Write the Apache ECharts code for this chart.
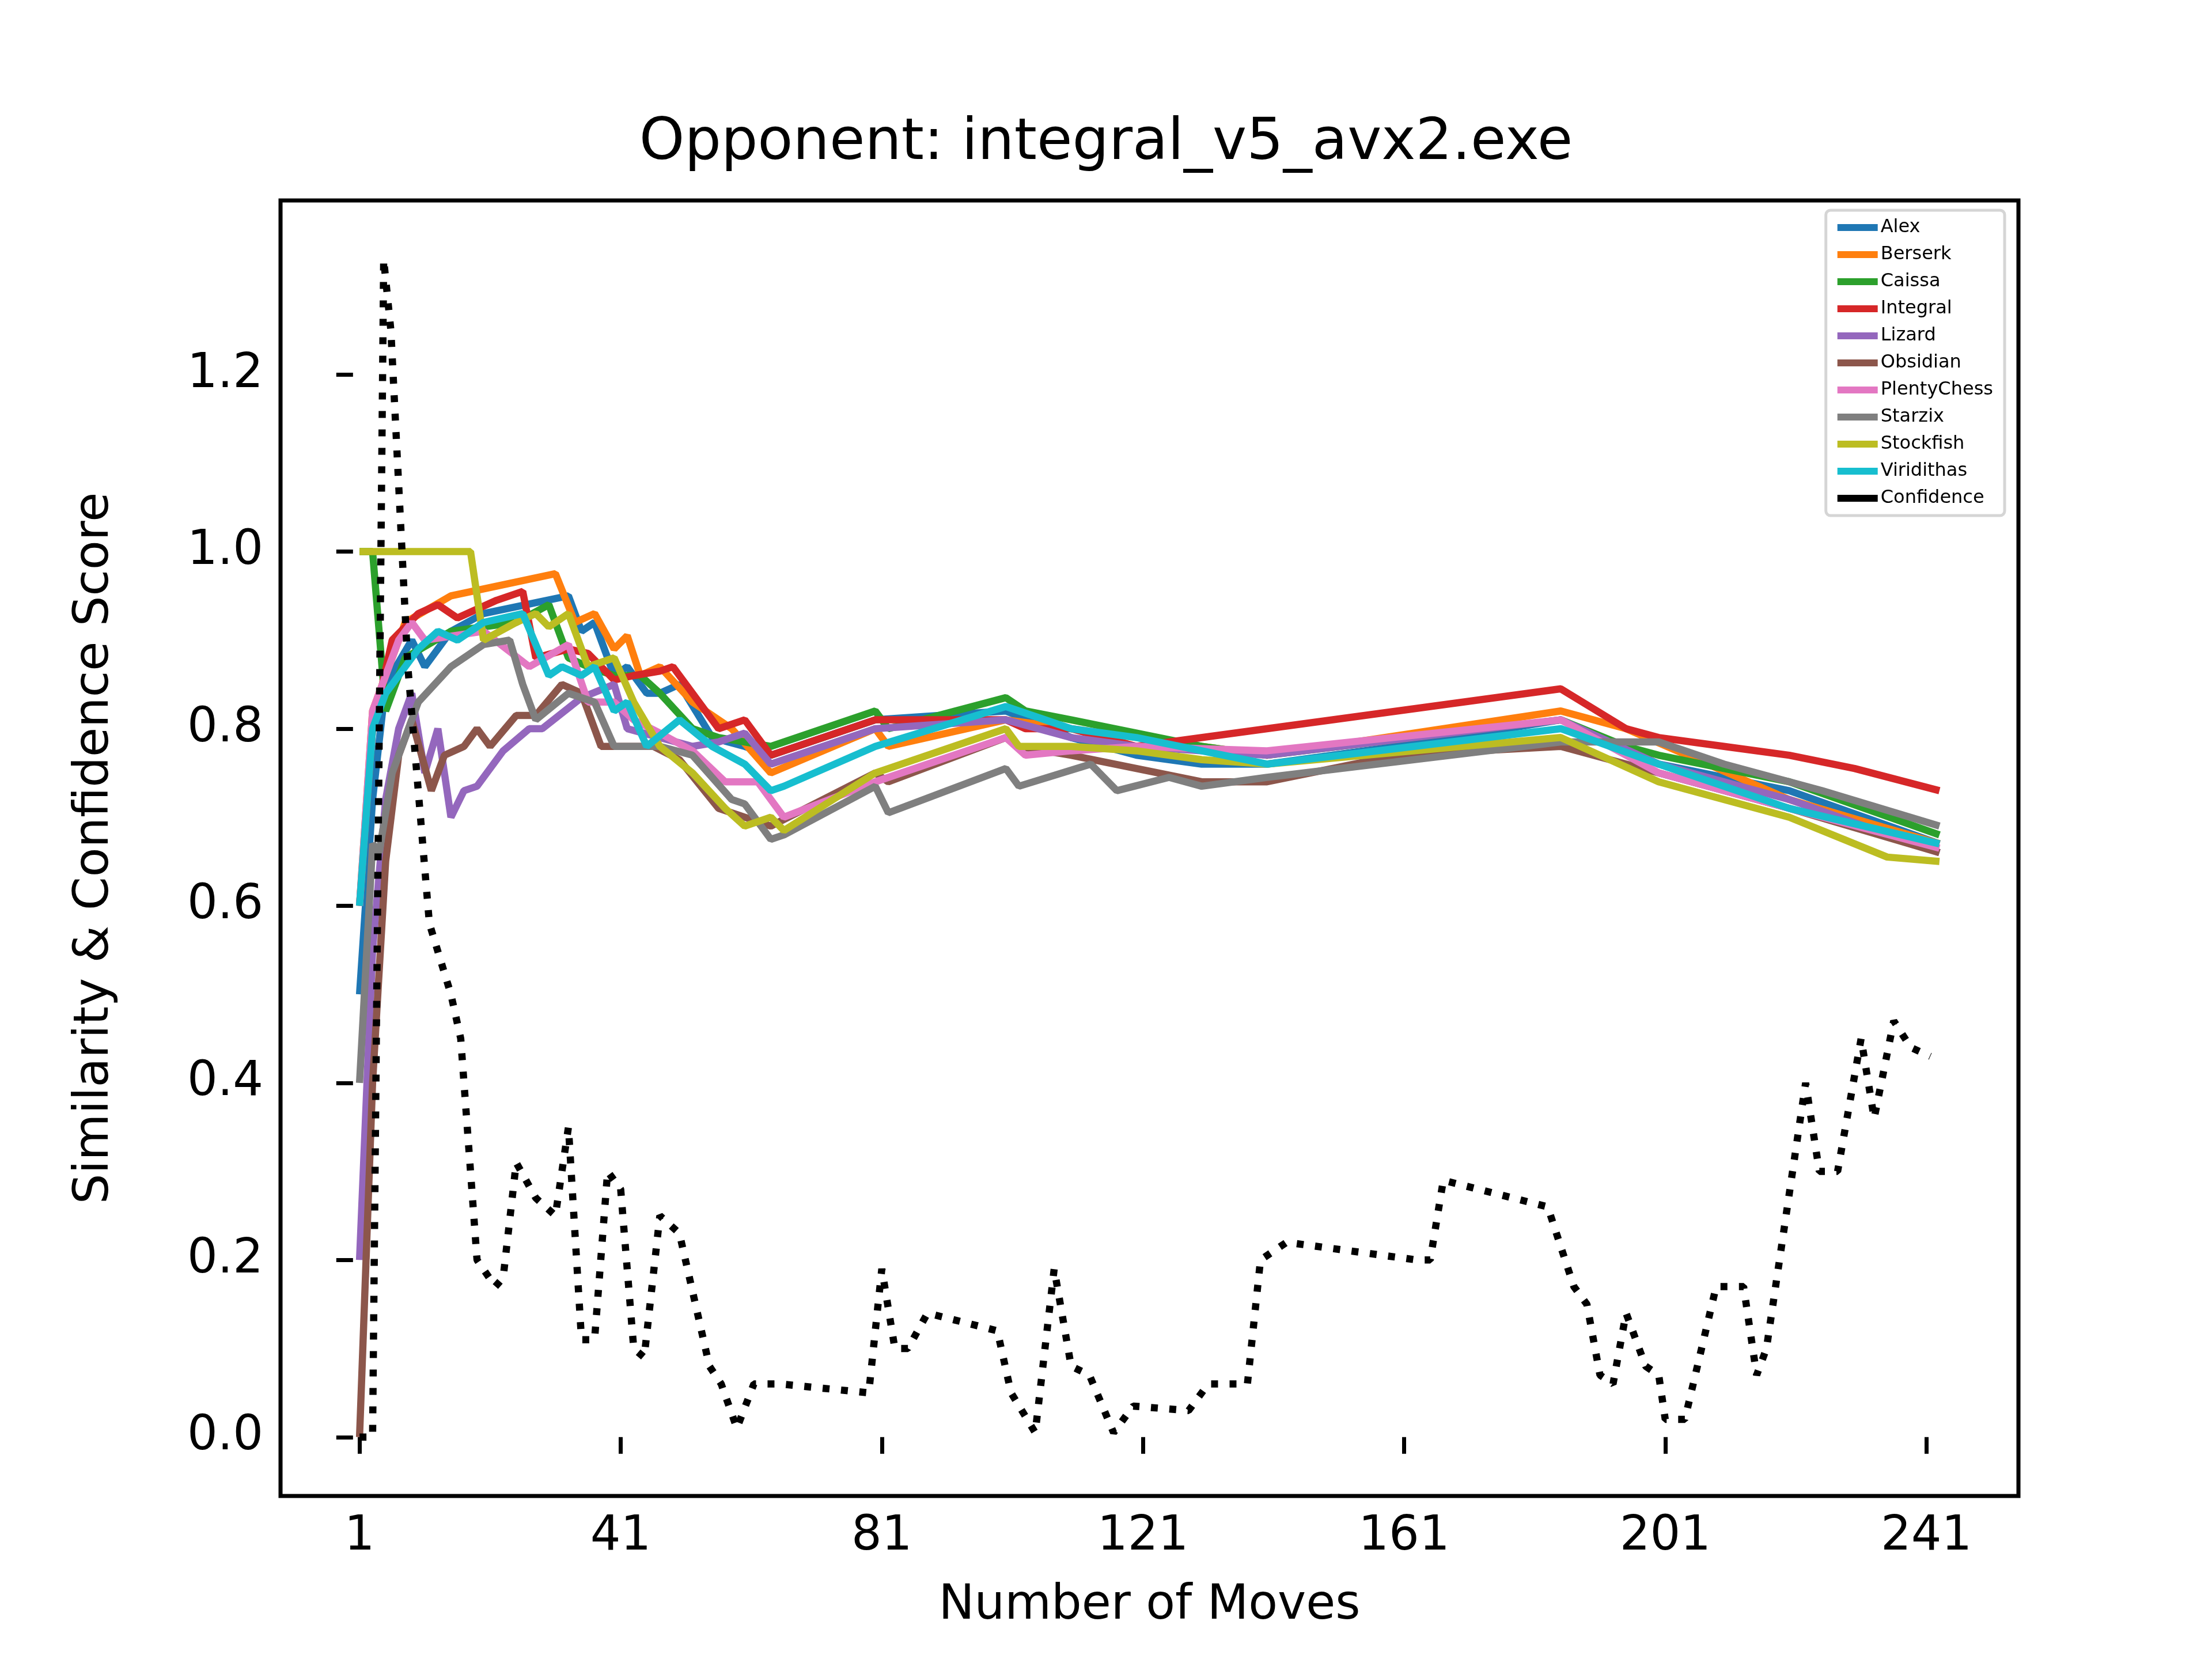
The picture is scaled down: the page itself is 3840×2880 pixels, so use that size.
<!DOCTYPE html>
<html>
<head>
<meta charset="utf-8">
<script src="https://cdn.jsdelivr.net/npm/echarts@6/dist/echarts.min.js"></script>
<style>html,body{margin:0;padding:0;background:#fff}#main{width:3840px;height:2880px}</style>
</head>
<body>
<div id="main"></div>
<script>
// [move, value] pairs
var alex = [[1,0.5],[3,0.72],[5,0.85],[9,0.9],[11,0.87],[15,0.91],[20,0.93],[33,0.95],[35,0.91],[37,0.92],[40,0.86],[42,0.87],[45,0.84],[47,0.84],[50,0.85],[55,0.79],[60,0.78],[64,0.77],[80,0.81],[100,0.82],[110,0.79],[120,0.77],[130,0.76],[140,0.76],[160,0.78],[185,0.81],[200,0.76],[220,0.73],[243,0.67]];
var berserk = [[1,0.6],[3,0.82],[8,0.92],[15,0.95],[31,0.975],[34,0.92],[37,0.93],[40,0.89],[42,0.905],[44,0.86],[47,0.87],[52,0.83],[58,0.8],[64,0.75],[80,0.8],[82,0.78],[100,0.81],[110,0.8],[120,0.79],[130,0.78],[140,0.77],[185,0.82],[195,0.8],[220,0.72],[243,0.67]];
var caissa = [[1,1.0],[3,1.0],[5,0.82],[8,0.88],[15,0.91],[25,0.92],[30,0.94],[33,0.88],[36,0.87],[40,0.86],[44,0.86],[47,0.84],[52,0.8],[56,0.79],[64,0.78],[80,0.82],[82,0.8],[100,0.835],[103,0.82],[110,0.81],[120,0.795],[130,0.78],[140,0.77],[185,0.81],[195,0.78],[200,0.77],[220,0.74],[243,0.68]];
var integral = [[1,0.6],[3,0.8],[6,0.9],[10,0.93],[13,0.94],[16,0.925],[22,0.945],[26,0.955],[28,0.88],[33,0.89],[36,0.885],[40,0.855],[43,0.86],[47,0.865],[49,0.87],[52,0.84],[56,0.8],[60,0.81],[64,0.77],[80,0.81],[100,0.81],[103,0.8],[110,0.8],[120,0.78],[140,0.8],[185,0.845],[195,0.8],[200,0.79],[210,0.78],[220,0.77],[230,0.755],[243,0.73]];
var lizard = [[1,0.2],[3,0.55],[5,0.72],[7,0.8],[9,0.84],[11,0.75],[13,0.8],[15,0.7],[17,0.73],[19,0.735],[23,0.775],[27,0.8],[29,0.8],[35,0.835],[40,0.85],[42,0.8],[47,0.79],[52,0.78],[56,0.785],[60,0.795],[64,0.76],[80,0.8],[100,0.81],[110,0.79],[120,0.78],[140,0.77],[185,0.81],[200,0.76],[220,0.72],[243,0.66]];
var obsidian = [[1,0],[3,0.4],[5,0.65],[7,0.77],[9,0.81],[12,0.73],[14,0.77],[17,0.78],[19,0.8],[21,0.78],[25,0.815],[28,0.815],[32,0.85],[35,0.84],[38,0.78],[46,0.78],[50,0.765],[56,0.71],[60,0.7],[64,0.69],[80,0.75],[82,0.74],[100,0.79],[102,0.78],[110,0.77],[120,0.755],[130,0.74],[140,0.74],[160,0.77],[185,0.78],[200,0.75],[220,0.71],[243,0.66]];
var plenty = [[1,0.6],[3,0.82],[5,0.86],[7,0.9],[9,0.92],[11,0.9],[20,0.91],[27,0.87],[33,0.895],[36,0.83],[40,0.83],[43,0.81],[47,0.795],[52,0.775],[57,0.74],[62,0.74],[66,0.7],[80,0.74],[100,0.79],[103,0.77],[110,0.775],[120,0.78],[140,0.775],[185,0.81],[200,0.75],[220,0.71],[243,0.665]];
var starzix = [[1,0.4],[3,0.67],[4,0.66],[6,0.75],[10,0.83],[15,0.87],[20,0.895],[24,0.9],[26,0.85],[28,0.81],[33,0.84],[37,0.83],[40,0.78],[47,0.78],[52,0.77],[58,0.72],[60,0.715],[64,0.675],[66,0.68],[80,0.735],[82,0.705],[100,0.755],[102,0.735],[113,0.76],[117,0.73],[125,0.745],[130,0.735],[140,0.745],[185,0.785],[200,0.785],[210,0.76],[225,0.73],[243,0.69]];
var stockfish = [[1,1.0],[18,1.0],[20,0.9],[25,0.92],[28,0.93],[30,0.915],[33,0.93],[36,0.87],[40,0.88],[43,0.83],[47,0.78],[52,0.75],[57,0.71],[60,0.69],[64,0.7],[66,0.685],[80,0.75],[100,0.8],[102,0.78],[110,0.78],[120,0.775],[130,0.765],[140,0.76],[185,0.79],[200,0.74],[210,0.72],[220,0.7],[235,0.655],[243,0.65]];
var viridithas = [[1,0.6],[3,0.8],[5,0.84],[8,0.87],[10,0.89],[13,0.91],[16,0.9],[20,0.92],[26,0.93],[30,0.86],[32,0.87],[35,0.86],[37,0.87],[40,0.82],[42,0.83],[45,0.78],[50,0.81],[55,0.78],[60,0.76],[64,0.73],[66,0.735],[80,0.78],[100,0.825],[110,0.8],[120,0.79],[130,0.775],[140,0.76],[185,0.8],[200,0.76],[220,0.71],[243,0.67]];
var confidence = [[1,0],[3,0],[4.7,1.33],[5.8,1.25],[8.4,0.87],[11.7,0.58],[15,0.5],[16.5,0.45],[19,0.2],[21.8,0.17],[23,0.18],[25,0.31],[28,0.27],[31,0.25],[33,0.35],[35,0.11],[37,0.11],[39,0.3],[41,0.28],[43,0.1],[44.6,0.09],[47,0.25],[50,0.23],[54.6,0.08],[56.4,0.06],[58.8,0.01],[61.4,0.06],[65.4,0.06],[79,0.05],[81,0.19],[83,0.1],[85,0.1],[88,0.14],[98.7,0.12],[100.8,0.05],[104.5,0.005],[107.4,0.19],[110,0.08],[112.8,0.07],[116.5,0.005],[119.5,0.035],[128,0.03],[131,0.06],[137,0.06],[139,0.2],[143,0.22],[163,0.2],[165,0.2],[167,0.29],[183,0.26],[187,0.17],[189,0.15],[191,0.07],[193,0.06],[195,0.14],[198,0.08],[200,0.07],[201,0.02],[204,0.02],[208.8,0.17],[213,0.17],[215,0.07],[216.5,0.1],[222.5,0.4],[224.6,0.3],[227.4,0.3],[231,0.45],[233,0.36],[236,0.47],[238.6,0.44],[241.6,0.43]];

var names = ['Alex','Berserk','Caissa','Integral','Lizard','Obsidian','PlentyChess','Starzix','Stockfish','Viridithas','Confidence'];
var colors = ['#1f77b4','#ff7f0e','#2ca02c','#d62728','#9467bd','#8c564b','#e377c2','#7f7f7f','#bcbd22','#17becf','#000000'];
var seriesData = [alex, berserk, caissa, integral, lizard, obsidian, plenty, starzix, stockfish, viridithas, confidence];
var xTicks = [1, 41, 81, 121, 161, 201, 241];

var myChart = echarts.init(document.getElementById('main'));
var font = 'DejaVu Sans';

var option = {
  animation: false,
  color: colors,
  textStyle: { fontFamily: font },
  title: {
    text: 'Opponent: integral_v5_avx2.exe',
    left: 'center', top: 195,
    textStyle: { fontFamily: font, fontSize: 100, fontWeight: 'normal', color: '#000' }
  },
  legend: {
    orient: 'vertical',
    right: 360, top: 365,
    itemWidth: 70, itemHeight: 12, itemGap: 15,
    padding: [14, 20, 14, 20],
    backgroundColor: '#fff',
    borderColor: '#d5d5d5', borderWidth: 5, borderRadius: 8,
    textStyle: { fontFamily: font, fontSize: 32, color: '#000' },
    icon: 'rect',
    data: names
  },
  grid: {
    left: 487, right: 336, top: 348, bottom: 283,
    show: true, borderColor: '#000', borderWidth: 7
  },
  xAxis: {
    type: 'value', min: -11.1, max: 255.1,
    name: 'Number of Moves', nameLocation: 'middle', nameGap: 150,
    nameTextStyle: { fontFamily: font, fontSize: 83, color: '#000' },
    axisLine: { show: false },
    splitLine: { show: false },
    axisTick: { show: true, length: 29, lineStyle: { color: '#000', width: 7 }, customValues: xTicks },
    axisLabel: { fontFamily: font, fontSize: 83, color: '#000', margin: 30, customValues: xTicks }
  },
  yAxis: {
    type: 'value', min: -0.0665, max: 1.3965,
    name: 'Similarity & Confidence Score', nameLocation: 'middle', nameGap: 280,
    nameTextStyle: { fontFamily: font, fontSize: 83, color: '#000' },
    axisLine: { show: false },
    splitLine: { show: false },
    axisTick: { show: true, length: 29, lineStyle: { color: '#000', width: 7 }, customValues: [0,0.2,0.4,0.6,0.8,1.0,1.2,1.4] },
    axisLabel: {
      fontFamily: font, fontSize: 83, color: '#000', margin: 30,
      customValues: [0,0.2,0.4,0.6,0.8,1.0,1.2,1.4],
      formatter: function (v) { return v.toFixed(1); }
    }
  },
  series: names.map(function (n, i) {
    return {
      type: 'line', name: n, data: seriesData[i],
      showSymbol: false, symbol: 'none',
      lineStyle: n === 'Confidence'
        ? { width: 12.5, color: '#000', type: [12, 20] }
        : { width: 12.5, color: colors[i] },
      z: n === 'Confidence' ? 3 : 2
    };
  })
};

myChart.setOption(option);
</script>
</body>
</html>
